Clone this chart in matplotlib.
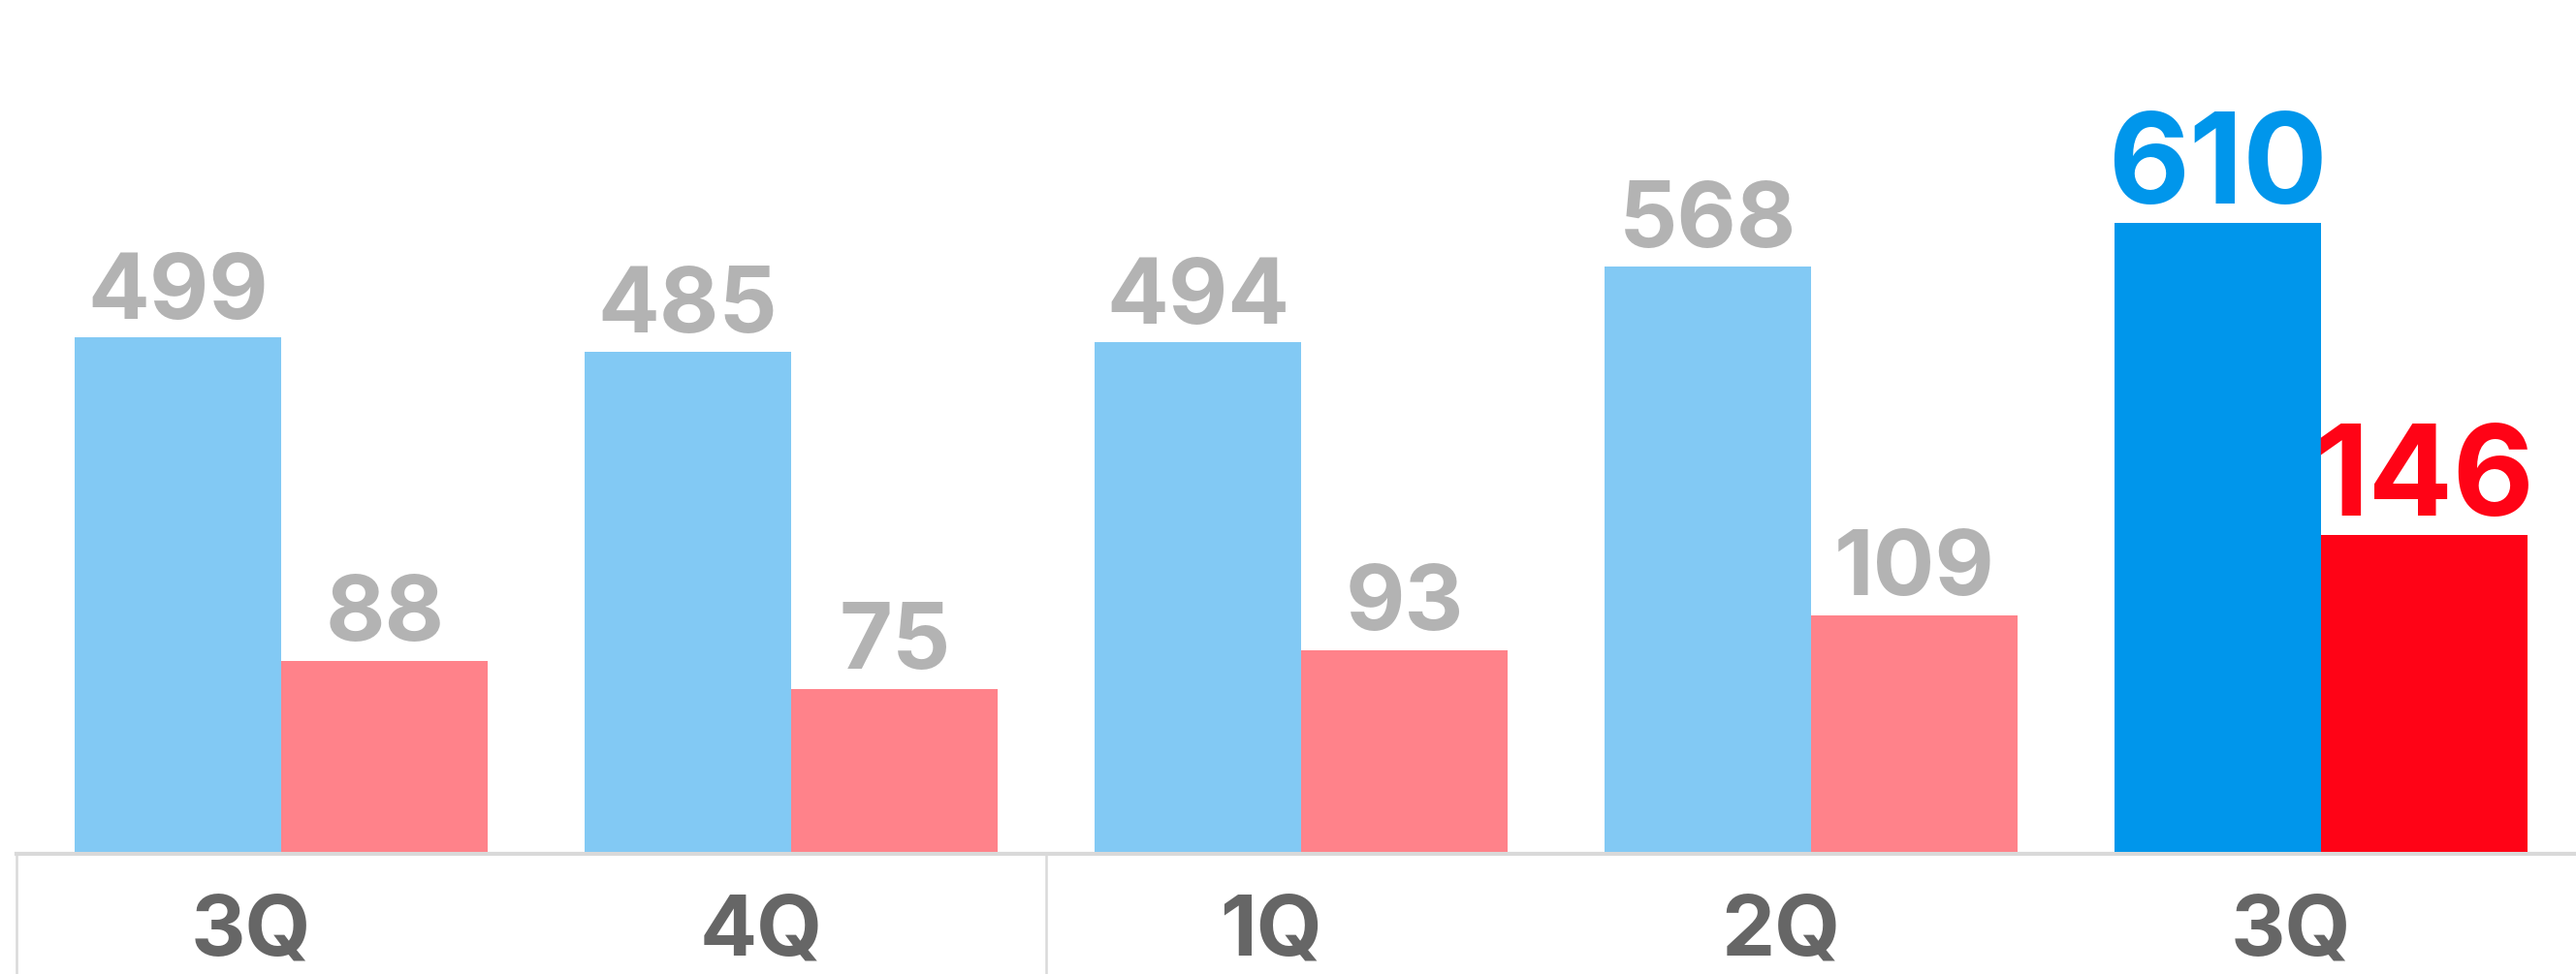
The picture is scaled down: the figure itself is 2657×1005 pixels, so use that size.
import matplotlib.pyplot as plt
from matplotlib import transforms

quarters = ["3Q", "4Q", "1Q", "2Q", "3Q"]
blue_values = [499, 485, 494, 568, 610]
red_values = [88, 75, 93, 109, 146]

LIGHT_BLUE = "#82c9f4"
LIGHT_RED = "#ff828a"
BLUE = "#0096eb"
RED = "#ff0316"
GREY_LABEL = "#b3b3b3"
AXIS_LABEL = "#666666"
LINE = "#d9d9d9"

plt.rcParams["font.family"] = ["Inter", "DejaVu Sans"]

fig = plt.figure(figsize=(26.57, 10.05), dpi=100)
ax = fig.add_axes([0, 126 / 1005, 1, 879 / 1005])
ax2 = ax.twinx()

width = 0.405
x = list(range(len(quarters)))
last = len(quarters) - 1

for i in x:
    hi = i == last
    ax.bar(i - width / 2, blue_values[i], width, color=BLUE if hi else LIGHT_BLUE, zorder=2)
    ax2.bar(i + width / 2, red_values[i], width, color=RED if hi else LIGHT_RED, zorder=2)
    ax.annotate(str(blue_values[i]), (i - width / 2, blue_values[i]), xytext=(0, 14),
                textcoords="offset points", ha="center", va="baseline",
                fontsize=93 if hi else 68, fontweight="bold",
                color=BLUE if hi else GREY_LABEL)
    ax2.annotate(str(red_values[i]), (i + width / 2, red_values[i]), xytext=(0, 15),
                 textcoords="offset points", ha="center", va="baseline",
                 fontsize=93 if hi else 68, fontweight="bold",
                 color=RED if hi else GREY_LABEL)
    ax.text(i - 0.06, -0.1206, quarters[i],
            transform=transforms.blended_transform_factory(ax.transData, ax.transAxes),
            ha="center", va="baseline", fontsize=63, fontweight="bold", color=AXIS_LABEL)

ax.set_xlim(-0.552, 4.5)
ax.set_ylim(0, 826)
ax2.set_ylim(0, 393)

# baseline and year separators below the axis
trans = transforms.blended_transform_factory(ax.transData, ax.transAxes)
ax.plot([-0.52, 4.6], [-0.002, -0.002], transform=trans, color=LINE, lw=3.0, clip_on=False, zorder=1)
for sx in [-0.52, 1.5]:
    ax.plot([sx, sx], [-0.002, -0.2], transform=trans, color=LINE, lw=1.8, clip_on=False, zorder=1)

for a in (ax, ax2):
    a.axis("off")

fig.savefig("out.png", dpi=100)
plt.close(fig)
